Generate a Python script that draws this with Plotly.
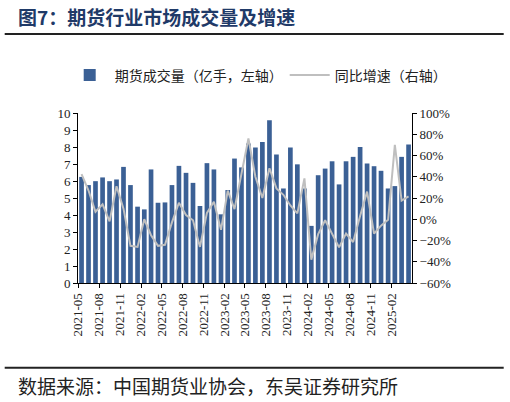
import plotly.graph_objects as go

months = ["2021-05","2021-06","2021-07","2021-08","2021-09","2021-10","2021-11","2021-12",
          "2022-01","2022-02","2022-03","2022-04","2022-05","2022-06","2022-07","2022-08",
          "2022-09","2022-10","2022-11","2022-12","2023-01","2023-02","2023-03","2023-04",
          "2023-05","2023-06","2023-07","2023-08","2023-09","2023-10","2023-11","2023-12",
          "2024-01","2024-02","2024-03","2024-04","2024-05","2024-06","2024-07","2024-08",
          "2024-09","2024-10","2024-11","2024-12","2025-01","2025-02","2025-03","2025-04"]

volume = [6.24, 5.76, 5.99, 6.21, 5.99, 6.09, 6.83, 5.76, 4.49, 4.33,
          6.68, 4.72, 4.74, 5.76, 6.89, 6.48, 5.89, 4.53, 7.05, 6.68,
          4.04, 5.47, 7.32, 6.80, 8.20, 7.97, 8.30, 9.57, 7.56, 5.56,
          7.97, 6.98, 5.56, 3.36, 6.34, 6.73, 7.16, 5.80, 7.16, 7.42,
          8.00, 7.03, 6.87, 6.60, 5.56, 5.70, 7.42, 8.14]

yoy = [42.5, 27, 7, 14, -2, 31, 10, -25, -26, 0,
       -15, -25, -24, -3, 15.5, 4, -1, -26, 6, 16.5,
       -10, 27, 9.5, 43, 76, 40, 20, 48, 29, 23,
       13, 5.5, 38.5, -38, -14, -1, -14, -26.5, -13.5, -21.5,
       3, 26, -13.5, -6, -0.5, 70, 17.5, 21.5]

tick_months = months[::3]

W, H = 510, 402
L, R, T, B = 78.3, 412.3, 112.7, 283.3
def px(x): return (x - L) / (R - L)
def py(y): return (B - y) / (B - T)

serif = "Liberation Serif"
cjk = "Noto Sans CJK SC"

fig = go.Figure()
fig.add_trace(go.Bar(
    x=months, y=volume, name="期货成交量（亿手，左轴）", legend="legend",
    marker=dict(color="#3B6095", line=dict(width=0)),
    xperiod="M1", xperiodalignment="middle",
    width=20.5 * 86400000,
))
fig.add_trace(go.Scatter(
    x=months, y=yoy, name="同比增速（右轴）", yaxis="y2", legend="legend2",
    mode="lines", line=dict(color="#BFBFBF", width=2),
    xperiod="M1", xperiodalignment="middle",
))

legend_common = dict(orientation="h", xanchor="left", yanchor="middle", y=py(75),
                     font=dict(family=cjk, size=14, color="#222222"),
                     itemwidth=40, bgcolor="rgba(0,0,0,0)")

fig.update_layout(
    width=W, height=H,
    margin=dict(l=L, r=W - R, t=T, b=H - B, pad=0),
    paper_bgcolor="white", plot_bgcolor="white",
    showlegend=True,
    legend=dict(x=px(65), **legend_common),
    legend2=dict(x=px(285), **legend_common),
    xaxis=dict(
        type="date", range=["2021-05-01", "2025-05-01"],
        tickvals=tick_months, ticktext=tick_months, tickangle=-90,
        ticks="outside", ticklen=4, tickcolor="black",
        showline=True, linecolor="black", linewidth=1, showgrid=False,
        tickfont=dict(family=serif, size=13, color="#222222"),
    ),
    yaxis=dict(
        range=[0, 10], dtick=1, ticks="outside", ticklen=4, tickcolor="black",
        showline=True, linecolor="black", linewidth=1, showgrid=False, zeroline=False,
        tickfont=dict(family=serif, size=13, color="#222222"),
    ),
    yaxis2=dict(
        range=[-60, 100], dtick=20, overlaying="y", side="right", ticksuffix="%",
        ticks="outside", ticklen=4, tickcolor="black",
        showline=True, linecolor="black", linewidth=1, showgrid=False, zeroline=False,
        tickfont=dict(family=serif, size=13, color="#222222"),
    ),
    annotations=[
        dict(text="<b>图7：期货行业市场成交量及增速</b>", xref="paper", yref="paper",
             x=px(16), y=py(16), xanchor="left", yanchor="middle", showarrow=False,
             font=dict(family=cjk, size=19, color="#1F3A68")),
        dict(text="数据来源：中国期货业协会，东吴证券研究所", xref="paper", yref="paper",
             x=px(16), y=py(386), xanchor="left", yanchor="middle", showarrow=False,
             font=dict(family=cjk, size=19, color="#222222")),
    ],
    shapes=[
        dict(type="line", xref="paper", yref="paper", x0=px(5), x1=px(504),
             y0=py(33.5), y1=py(33.5), line=dict(color="#222222", width=2)),
        dict(type="line", xref="paper", yref="paper", x0=px(5), x1=px(504),
             y0=py(368.3), y1=py(368.3), line=dict(color="#222222", width=2)),
    ],
)

fig.write_html("out.html", config={"displayModeBar": False},
               post_script="document.body.style.margin='0';document.body.style.padding='0';")
